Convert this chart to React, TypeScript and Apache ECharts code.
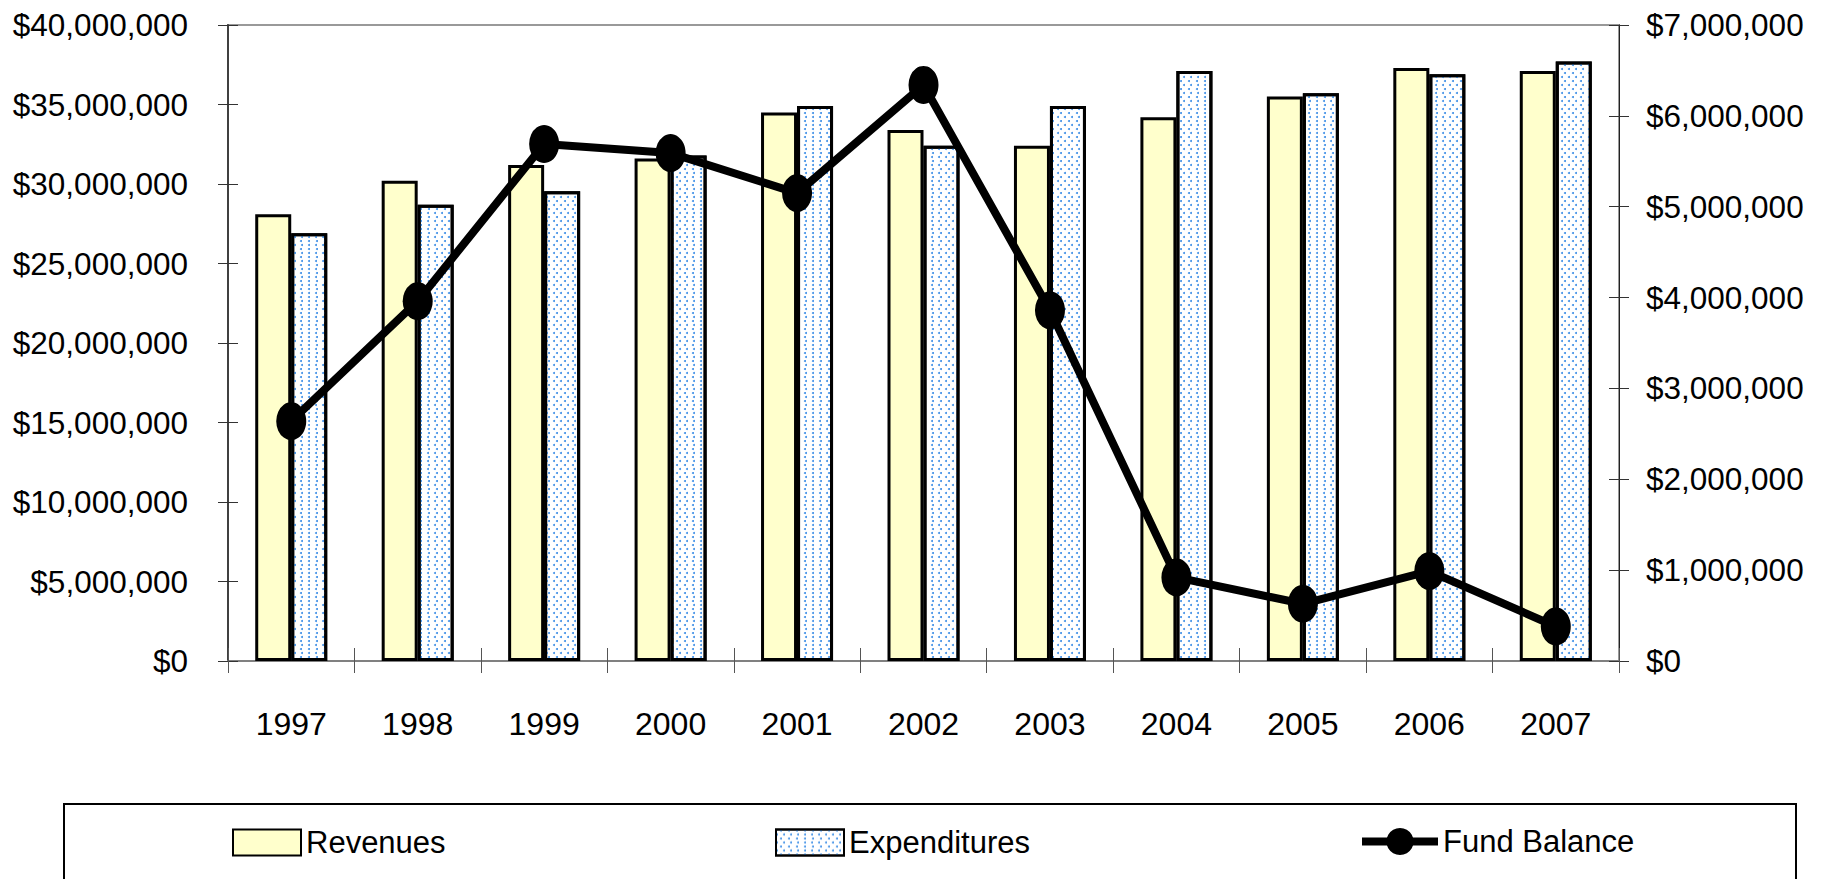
import React, { useEffect, useRef } from 'react';
import * as echarts from 'echarts';

const years = ['1997', '1998', '1999', '2000', '2001', '2002', '2003', '2004', '2005', '2006', '2007'];
const revenues = [28100000, 30200000, 31200000, 31600000, 34500000, 33400000, 32400000, 34200000, 35500000, 37300000, 37100000];
const expenditures = [26900000, 28700000, 29550000, 31800000, 34900000, 32400000, 34900000, 37100000, 35700000, 36900000, 37700000];
const fundBalance = [2640000, 3960000, 5690000, 5590000, 5150000, 6340000, 3860000, 920000, 630000, 990000, 380000];

const FONT = "'Liberation Sans Narrow', 'Liberation Sans', Arial, sans-serif";
const money = (v: number) => '$' + Math.round(v).toLocaleString('en-US');

export default function App() {
  const ref = useRef<HTMLDivElement>(null);
  useEffect(() => {
    document.body.style.margin = '0';
    const chart = echarts.init(ref.current!, undefined, { renderer: 'svg' });
    const decal = {
      symbol: 'circle',
      symbolSize: 1,
      color: '#3d8ee6',
      dashArrayX: [[2, 5], [0, 3.5, 2, 1.5]],
      dashArrayY: [2, 1.5],
      rotation: 0,
    };
    const legendCommon = {
      top: 822,
      itemHeight: 26,
      itemWidth: 68,
      itemGap: 0,
      icon: 'rect',
      textStyle: { fontFamily: FONT, fontSize: 31, color: '#000' },
      selectedMode: false,
    };
    chart.setOption({
      animation: false,
      textStyle: { fontFamily: FONT },
      grid: {
        left: 228,
        right: 210,
        top: 25,
        bottom: 218,
        show: true,
        outerBoundsMode: 'none',
        containLabel: false,
        borderColor: '#999',
        borderWidth: 2,
        backgroundColor: 'transparent',
      },
      legend: [
        { ...legendCommon, left: 227, data: ['Revenues'] },
        { ...legendCommon, left: 770, data: ['Expenditures'] },
        {
          ...legendCommon,
          left: 1353,
          itemWidth: 76,
          itemHeight: 34,
          top: 821,
          icon: undefined,
          lineStyle: { width: 8, color: '#000' },
          data: ['Fund Balance'],
        },
      ],
      xAxis: [
        {
          type: 'category',
          data: years,
          axisLine: { lineStyle: { color: '#808080', width: 2 } },
          axisTick: { show: true, length: 12, lineStyle: { color: '#555', width: 1 } },
          axisLabel: { fontFamily: FONT, fontSize: 32, color: '#000', margin: 47 },
          splitLine: { show: false },
        },
        {
          type: 'category',
          data: years,
          position: 'bottom',
          axisLine: { show: false },
          axisTick: { show: true, inside: true, length: 13, lineStyle: { color: '#555', width: 1 } },
          axisLabel: { show: false },
          splitLine: { show: false },
        },
      ],
      yAxis: [
        {
          type: 'value',
          min: 0,
          max: 40000000,
          interval: 5000000,
          position: 'left',
          axisLine: { show: true, lineStyle: { color: '#404040', width: 2 } },
          axisTick: { show: true, length: 10, lineStyle: { color: '#333' } },
          axisLabel: { fontFamily: FONT, fontSize: 31.5, color: '#000', margin: 40, formatter: money },
          splitLine: { show: false },
        },
        {
          type: 'value',
          min: 0,
          max: 7000000,
          interval: 1000000,
          position: 'right',
          axisLine: { show: true, lineStyle: { color: '#222', width: 1 } },
          axisTick: { show: true, length: 10, lineStyle: { color: '#333' } },
          axisLabel: { fontFamily: FONT, fontSize: 31.5, color: '#000', margin: 27, formatter: money },
          splitLine: { show: false },
        },
        {
          type: 'value',
          min: 0,
          max: 40000000,
          interval: 5000000,
          position: 'left',
          axisLine: { show: false },
          axisTick: { show: true, inside: true, length: 10, lineStyle: { color: '#333' } },
          axisLabel: { show: false },
          splitLine: { show: false },
        },
        {
          type: 'value',
          min: 0,
          max: 7000000,
          interval: 1000000,
          position: 'right',
          axisLine: { show: false },
          axisTick: { show: true, inside: true, length: 10, lineStyle: { color: '#333' } },
          axisLabel: { show: false },
          splitLine: { show: false },
        },
      ],
      series: [
        {
          name: 'Revenues',
          type: 'bar',
          data: revenues,
          barWidth: 36,
          barGap: '0%',
          itemStyle: { color: '#FFFFCC', borderColor: '#000', borderWidth: 3 },
        },
        {
          name: 'Expenditures',
          type: 'bar',
          data: expenditures,
          barWidth: 36,
          barGap: '0%',
          itemStyle: { color: '#ffffff', borderColor: '#000', borderWidth: 3, decal },
        },
        {
          name: 'Fund Balance',
          type: 'line',
          yAxisIndex: 1,
          data: fundBalance,
          symbol: 'circle',
          symbolSize: [30, 38],
          itemStyle: { color: '#000' },
          lineStyle: { color: '#000', width: 8 },
          z: 5,
        },
      ],
      graphic: [
        {
          type: 'rect',
          shape: { x: 64, y: 804, width: 1732, height: 140 },
          style: { fill: 'none', stroke: '#000', lineWidth: 2 },
          silent: true,
        },
      ],
    });
    return () => chart.dispose();
  }, []);
  return <div ref={ref} style={{ position: 'absolute', left: 0, top: 0, width: 1829, height: 879 }} />;
}
